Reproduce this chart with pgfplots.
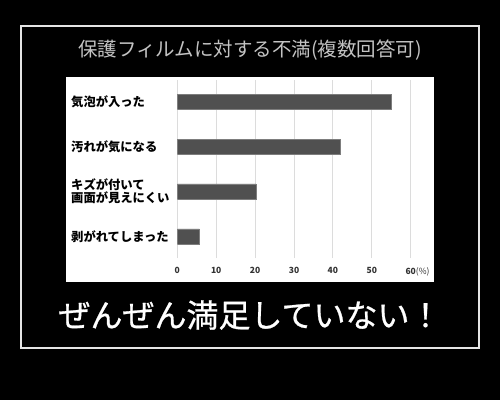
\documentclass[border=0pt]{standalone}
\usepackage{fontspec}
\setmainfont{Noto Sans CJK JP}
\newfontfamily\bigjp{Noto Sans CJK JP}[FakeBold=0.8]
\usepackage{pgfplots}
\pgfplotsset{compat=1.18}
\definecolor{barfill}{RGB}{80,80,80}
\definecolor{bardraw}{RGB}{125,125,125}
\definecolor{gridc}{RGB}{220,220,220}
\definecolor{titlec}{RGB}{195,195,195}
\definecolor{tickc}{RGB}{50,50,50}
\begin{document}
\begin{tikzpicture}[x=1pt,y=1pt]
\fill[black] (0,0) rectangle (500,400);
\draw[white!90!black, line width=1.5pt] (21,52) rectangle (479,374);
\fill[white] (65.7,118.5) rectangle (434.3,323.3);
\node[text=titlec, font=\fontsize{19.5}{19.5}\selectfont] at (250,350) {保護フィルムに対する不満(複数回答可)};
\begin{axis}[
  at={(177.3pt,142pt)}, anchor=south west,
  width=233.4pt, height=178pt, scale only axis,
  xbar, bar width=15pt,
  xmin=0, xmax=60, ymin=-0.48, ymax=3.48,
  xtick={0,10,...,60},
  xticklabels={0,10,20,30,40,50,60\rlap{\mdseries(\%)}},
  ytick={0,1,2,3},
  yticklabels={剥がれてしまった, {キズが付いて\\画面が見えにくい}, 汚れが気になる, 気泡が入った},
  axis line style={draw=none},
  tick style={draw=none},
  major tick length=0pt,
  xmajorgrids,
  grid style={gridc, line width=1pt},
  /pgf/number format/assume math mode=true,
  xticklabel style={text=tickc, inner sep=0pt, yshift=-9pt, font=\bfseries\fontsize{8.5}{9}\selectfont},
  yticklabel style={anchor=west, align=left, inner sep=0pt, xshift=-106.3pt, font=\bfseries\fontsize{12.3}{13.4}\selectfont},
]
\addplot[fill=barfill, draw=bardraw] coordinates {(5.7,0) (20.2,1) (42,2) (55,3)};
\end{axis}
\node[white, font=\bigjp\fontsize{32}{32}\selectfont] at (250,85) {ぜんぜん満足していない！};
\end{tikzpicture}
\end{document}
